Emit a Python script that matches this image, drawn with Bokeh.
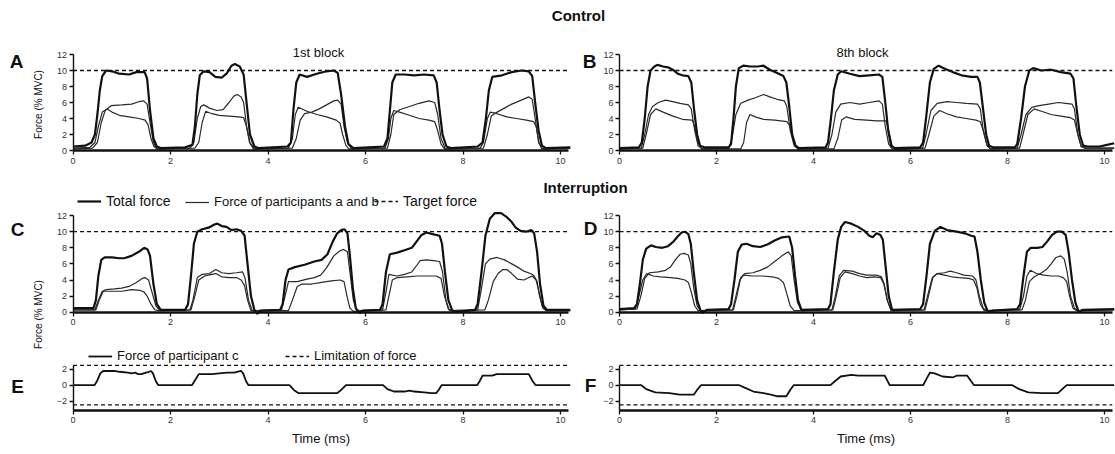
import numpy as np
from bokeh.plotting import figure
from bokeh.models import Range1d, LinearAxis, FixedTicker, Label, Legend, LegendItem
from bokeh.embed import file_html
from bokeh.resources import INLINE

W, H = 1115, 454
FONT = "Liberation Sans"

# ---------------- data (time on axis "Time (ms)", force in % MVC) ----------------
target_force = 10.0
force_limit = 2.5
y_ticks_force = [0, 2, 4, 6, 8, 10, 12]
y_ticks_c = [-2, 0, 2]
x_ticks = [0, 2, 4, 6, 8, 10]

A_total = [(0,0.5),(0.25,0.6),(0.38,1.0),(0.45,2.0),(0.5,4.5),(0.55,7.5),(0.6,9.3),(0.68,10.0),(0.8,9.9),(0.95,9.6),(1.15,9.5),(1.3,9.8),(1.47,9.8),(1.52,9.0),(1.58,5.0),(1.65,1.5),(1.72,0.5),(1.8,0.3),
           (2.3,0.4),(2.45,0.7),(2.5,3.0),(2.55,7.0),(2.6,9.4),(2.68,9.9),(2.8,9.8),(2.92,9.2),(3.05,9.1),(3.15,9.6),(3.25,10.6),(3.32,10.8),(3.42,10.5),(3.5,9.5),(3.56,6.0),(3.63,2.0),(3.72,0.5),(3.8,0.3),
           (4.4,0.5),(4.47,1.0),(4.52,5.0),(4.58,8.5),(4.65,9.5),(4.8,9.2),(5.0,9.6),(5.2,9.9),(5.35,10.0),(5.43,9.7),(5.5,7.0),(5.58,3.0),(5.65,0.8),(5.75,0.3),
           (6.38,0.5),(6.45,1.5),(6.5,5.0),(6.55,8.5),(6.62,9.5),(6.8,9.5),(7.0,9.4),(7.2,9.5),(7.4,9.4),(7.46,8.5),(7.52,5.0),(7.58,2.0),(7.66,0.5),(7.75,0.3),
           (8.3,0.5),(8.4,1.0),(8.47,4.0),(8.53,7.5),(8.6,9.2),(8.8,9.4),(9.0,9.8),(9.2,10.0),(9.35,9.9),(9.42,9.3),(9.48,6.0),(9.55,2.5),(9.62,0.6),(9.7,0.3),(10.2,0.4)]
A_part1 = [(0,0.3),(0.35,0.4),(0.45,1.0),(0.52,3.0),(0.6,4.8),(0.7,5.2),(0.8,4.8),(0.95,4.4),(1.15,4.2),(1.35,4.0),(1.48,3.8),(1.54,3.2),(1.6,1.5),(1.66,0.5),(1.72,0.2),
           (2.4,0.3),(2.48,1.0),(2.55,4.0),(2.62,5.5),(2.68,5.7),(2.8,5.3),(2.95,5.0),(3.08,5.1),(3.2,6.0),(3.3,6.8),(3.37,7.0),(3.45,6.7),(3.5,6.0),(3.56,3.0),(3.62,1.0),(3.7,0.2),
           (4.42,0.3),(4.5,1.5),(4.56,4.5),(4.62,5.4),(4.8,4.9),(5.0,4.5),(5.2,4.2),(5.4,3.8),(5.48,3.4),(5.53,2.0),(5.6,0.6),(5.66,0.2),
           (6.4,0.3),(6.47,1.5),(6.52,4.0),(6.58,5.0),(6.7,4.8),(6.9,4.4),(7.1,4.0),(7.3,3.8),(7.42,3.6),(7.48,2.5),(7.55,0.8),(7.62,0.2),
           (8.35,0.3),(8.42,1.0),(8.5,4.0),(8.56,4.8),(8.7,4.6),(8.9,4.2),(9.1,4.0),(9.3,3.8),(9.45,3.6),(9.5,3.0),(9.56,1.0),(9.62,0.2),(10.2,0.3)]
A_part2 = [(0,0.2),(0.4,0.3),(0.5,1.0),(0.58,3.5),(0.66,5.0),(0.78,5.6),(1.0,5.7),(1.2,5.8),(1.35,6.1),(1.45,6.2),(1.52,5.8),(1.58,3.5),(1.65,1.0),(1.72,0.2),
           (2.5,0.3),(2.58,1.0),(2.65,3.5),(2.72,4.9),(2.85,4.6),(3.0,4.4),(3.2,4.3),(3.4,4.2),(3.5,4.1),(3.56,3.0),(3.63,1.0),(3.72,0.2),
           (4.5,0.3),(4.58,1.5),(4.66,3.8),(4.75,4.6),(4.9,4.8),(5.05,5.2),(5.2,5.7),(5.35,6.2),(5.43,6.3),(5.5,5.8),(5.56,3.0),(5.63,1.0),(5.72,0.2),
           (6.45,0.3),(6.52,2.0),(6.58,4.5),(6.7,5.1),(6.9,5.5),(7.1,5.9),(7.3,6.2),(7.42,6.0),(7.48,4.5),(7.55,1.5),(7.64,0.2),
           (8.42,0.3),(8.5,2.0),(8.58,4.3),(8.7,4.8),(8.85,5.3),(9.0,5.8),(9.2,6.3),(9.35,6.7),(9.42,6.4),(9.48,4.0),(9.55,1.0),(9.62,0.2),(10.2,0.3)]

B_total = [(0,0.3),(0.4,0.4),(0.46,1.0),(0.52,4.0),(0.58,8.0),(0.64,10.0),(0.72,10.5),(0.78,10.7),(0.9,10.5),(1.0,10.4),(1.1,10.1),(1.2,9.6),(1.3,9.4),(1.42,9.3),(1.48,8.5),(1.54,5.0),(1.6,2.0),(1.66,0.6),(1.75,0.4),
           (2.25,0.4),(2.3,0.8),(2.35,4.0),(2.4,8.0),(2.46,10.3),(2.55,10.6),(2.7,10.5),(2.85,10.5),(2.97,10.6),(3.1,10.1),(3.25,9.7),(3.38,9.3),(3.44,8.5),(3.5,5.5),(3.56,2.0),(3.63,0.6),(3.7,0.3),
           (4.25,0.4),(4.3,1.0),(4.36,4.0),(4.42,7.5),(4.5,9.5),(4.57,9.9),(4.75,9.6),(4.95,9.3),(5.15,9.4),(5.35,9.5),(5.42,9.2),(5.48,6.0),(5.54,2.5),(5.6,0.6),(5.68,0.3),
           (6.2,0.4),(6.26,1.0),(6.32,4.0),(6.4,8.5),(6.48,10.2),(6.58,10.6),(6.72,10.2),(6.87,9.8),(7.05,9.4),(7.25,9.2),(7.38,9.2),(7.43,8.5),(7.5,5.0),(7.56,2.0),(7.62,0.6),(7.7,0.4),
           (8.15,0.4),(8.2,0.8),(8.28,4.0),(8.36,8.0),(8.45,10.0),(8.53,10.3),(8.7,10.0),(8.9,10.1),(9.1,9.8),(9.3,9.6),(9.36,9.0),(9.42,5.5),(9.49,2.0),(9.56,0.6),(9.65,0.5),(9.9,0.5),(10.05,0.7),(10.2,0.9)]
B_part1 = [(0,0.2),(0.45,0.3),(0.52,2.0),(0.6,4.5),(0.68,5.5),(0.8,6.0),(0.95,6.3),(1.1,6.1),(1.25,5.9),(1.42,5.7),(1.48,5.2),(1.55,2.5),(1.62,0.6),(1.7,0.2),
           (2.25,0.3),(2.32,1.5),(2.4,4.5),(2.5,5.9),(2.65,6.3),(2.8,6.6),(2.97,7.0),(3.1,6.7),(3.25,6.4),(3.4,6.2),(3.45,5.5),(3.52,2.5),(3.6,0.6),(3.68,0.2),
           (4.3,0.3),(4.38,2.0),(4.46,4.8),(4.56,5.8),(4.75,6.0),(4.95,5.8),(5.15,6.0),(5.35,6.2),(5.42,5.8),(5.48,3.0),(5.55,0.8),(5.62,0.2),
           (6.25,0.3),(6.32,2.0),(6.42,5.0),(6.55,5.9),(6.75,6.1),(6.95,6.0),(7.15,5.9),(7.38,5.8),(7.44,5.2),(7.5,2.5),(7.58,0.6),(7.65,0.2),
           (8.2,0.3),(8.28,2.0),(8.38,4.5),(8.5,5.4),(8.65,5.6),(8.85,5.8),(9.05,6.0),(9.2,5.9),(9.33,5.8),(9.38,5.2),(9.45,2.0),(9.52,0.5),(9.6,0.3),(10.2,0.3)]
B_part2 = [(0,0.2),(0.48,0.3),(0.55,2.0),(0.64,4.5),(0.75,5.2),(0.9,4.8),(1.1,4.3),(1.3,3.9),(1.5,3.8),(1.55,3.0),(1.62,1.0),(1.7,0.2),
           (2.5,0.2),(2.56,1.0),(2.62,3.5),(2.69,4.5),(2.8,4.2),(2.97,3.9),(3.2,3.8),(3.45,3.6),(3.52,3.0),(3.6,1.0),(3.68,0.2),
           (4.42,0.2),(4.5,1.5),(4.58,3.8),(4.67,4.2),(4.85,3.9),(5.1,3.8),(5.3,3.7),(5.5,3.7),(5.55,2.5),(5.62,0.6),(5.68,0.1),
           (6.3,0.3),(6.38,2.0),(6.48,4.3),(6.6,5.0),(6.75,4.6),(6.95,4.2),(7.15,4.0),(7.35,3.8),(7.44,3.6),(7.5,2.5),(7.58,0.6),(7.66,0.2),
           (8.25,0.3),(8.32,2.0),(8.42,4.5),(8.55,5.2),(8.7,4.9),(8.9,4.5),(9.1,4.3),(9.3,4.1),(9.38,3.8),(9.45,2.0),(9.52,0.5),(9.6,0.3),(10.2,0.3)]

C_total = [(0,0.5),(0.42,0.5),(0.47,1.5),(0.52,4.5),(0.58,6.5),(0.65,6.8),(0.8,6.8),(0.95,6.7),(1.05,6.7),(1.2,7.0),(1.35,7.5),(1.46,8.0),(1.53,7.8),(1.58,7.0),(1.65,3.5),(1.72,1.0),(1.8,0.3),
           (2.3,0.3),(2.36,1.0),(2.42,4.5),(2.48,8.5),(2.55,10.0),(2.65,10.3),(2.78,10.5),(2.9,10.9),(2.96,11.0),(3.05,10.7),(3.15,10.6),(3.25,10.2),(3.35,10.3),(3.45,10.1),(3.52,9.5),(3.58,6.0),(3.65,2.0),(3.72,0.3),(3.78,-0.2),(3.85,0.2),(4.25,0.3),
           (4.3,1.0),(4.36,4.0),(4.42,5.3),(4.55,5.6),(4.75,5.9),(4.95,6.3),(5.1,6.5),(5.22,7.2),(5.33,8.8),(5.42,9.8),(5.5,10.2),(5.57,10.3),(5.63,9.8),(5.68,7.0),(5.74,3.0),(5.8,0.5),(5.88,-0.1),(5.95,0.2),
           (6.3,0.3),(6.35,1.0),(6.42,5.0),(6.5,7.2),(6.65,7.4),(6.8,7.7),(6.95,8.0),(7.05,8.8),(7.15,9.6),(7.25,9.9),(7.38,9.7),(7.52,9.5),(7.57,8.5),(7.63,5.0),(7.7,1.5),(7.78,0.2),(7.85,0.0),
           (8.25,0.3),(8.3,1.0),(8.38,5.0),(8.46,9.5),(8.55,11.6),(8.65,12.3),(8.78,12.3),(8.9,11.8),(9.0,11.2),(9.08,10.5),(9.18,10.1),(9.3,10.0),(9.4,10.2),(9.46,9.8),(9.52,7.5),(9.58,3.5),(9.65,0.8),(9.72,0.3),(10.2,0.3)]
C_part1 = [(0,0.3),(0.45,0.3),(0.52,1.5),(0.6,2.6),(0.68,2.8),(0.85,2.9),(1.0,3.0),(1.15,3.2),(1.3,3.7),(1.42,4.2),(1.48,4.3),(1.55,4.0),(1.62,2.5),(1.7,0.8),(1.78,0.2),
           (2.4,0.3),(2.46,1.5),(2.55,4.3),(2.65,4.7),(2.8,4.8),(2.93,5.3),(3.05,4.9),(3.2,4.8),(3.35,4.9),(3.48,5.0),(3.53,4.2),(3.6,1.5),(3.68,0.2),
           (4.28,0.3),(4.35,2.0),(4.42,3.8),(4.6,3.8),(4.8,4.1),(4.95,4.3),(5.08,4.6),(5.2,5.5),(5.35,7.0),(5.47,7.6),(5.55,7.8),(5.63,7.5),(5.68,5.0),(5.75,1.5),(5.82,0.2),
           (6.35,0.3),(6.42,2.5),(6.48,4.7),(6.55,4.6),(6.65,4.5),(6.8,4.7),(6.95,5.0),(7.05,5.8),(7.12,6.4),(7.25,6.5),(7.4,6.4),(7.52,6.3),(7.58,5.0),(7.65,1.5),(7.72,0.2),
           (8.3,0.3),(8.38,3.0),(8.46,6.0),(8.55,6.6),(8.7,6.8),(8.85,6.5),(9.0,6.0),(9.12,5.6),(9.25,5.1),(9.38,4.8),(9.45,4.6),(9.52,3.8),(9.57,2.0),(9.64,0.5),(9.72,0.2),(10.2,0.2)]
C_part2 = [(0,0.3),(0.47,0.3),(0.54,1.5),(0.62,2.6),(0.8,2.6),(1.0,2.6),(1.2,2.8),(1.38,2.7),(1.46,2.5),(1.52,2.0),(1.6,1.0),(1.68,0.3),(1.75,0.2),
           (2.42,0.3),(2.5,2.0),(2.58,4.0),(2.7,4.5),(2.85,4.7),(2.93,4.8),(3.05,4.4),(3.2,4.3),(3.35,4.3),(3.45,4.0),(3.52,3.3),(3.58,1.5),(3.65,0.2),
           (4.42,0.2),(4.5,1.5),(4.6,3.2),(4.7,3.5),(4.9,3.5),(5.1,3.7),(5.3,3.9),(5.48,4.0),(5.56,3.8),(5.62,2.0),(5.68,0.5),(5.75,0.1),
           (6.42,0.3),(6.48,2.0),(6.55,4.0),(6.65,4.3),(6.85,4.4),(7.05,4.5),(7.25,4.5),(7.45,4.5),(7.55,4.2),(7.62,2.0),(7.7,0.4),(7.78,0.2),
           (8.45,0.3),(8.52,1.5),(8.62,3.8),(8.72,4.8),(8.82,5.3),(8.9,5.3),(9.0,4.8),(9.12,4.1),(9.25,4.0),(9.35,4.3),(9.42,4.5),(9.5,4.0),(9.56,2.5),(9.63,0.6),(9.7,0.2),(10.2,0.2)]

D_total = [(0,0.4),(0.3,0.5),(0.36,1.0),(0.42,3.5),(0.48,6.5),(0.55,7.9),(0.65,8.3),(0.75,8.1),(0.88,8.0),(1.0,8.2),(1.1,8.7),(1.2,9.4),(1.28,9.9),(1.35,10.0),(1.42,9.7),(1.47,8.5),(1.53,5.0),(1.6,1.5),(1.67,0.2),(1.72,-0.1),(1.8,0.3),
           (2.25,0.4),(2.3,1.0),(2.37,4.0),(2.44,7.5),(2.52,8.4),(2.62,8.5),(2.75,8.2),(2.9,8.1),(3.05,8.4),(3.2,8.9),(3.35,9.3),(3.5,9.4),(3.56,8.0),(3.62,4.5),(3.68,1.5),(3.75,0.3),
           (4.3,0.4),(4.35,1.0),(4.42,5.0),(4.5,9.0),(4.57,10.6),(4.65,11.2),(4.78,11.0),(4.92,10.6),(5.05,10.1),(5.15,9.5),(5.22,9.3),(5.3,9.8),(5.38,9.6),(5.43,9.0),(5.49,5.5),(5.55,2.0),(5.62,0.3),
           (6.2,0.4),(6.26,1.0),(6.33,4.5),(6.4,8.5),(6.5,10.1),(6.62,10.6),(6.75,10.2),(6.95,10.0),(7.12,9.8),(7.25,9.5),(7.32,9.4),(7.38,7.5),(7.45,4.0),(7.52,1.2),(7.6,0.0),(7.7,0.2),
           (8.2,0.4),(8.26,1.0),(8.33,4.5),(8.4,7.5),(8.48,8.0),(8.62,8.0),(8.72,8.1),(8.82,8.8),(8.92,9.6),(9.02,10.0),(9.12,10.0),(9.2,9.6),(9.26,7.5),(9.33,4.0),(9.4,1.2),(9.47,0.0),(9.55,0.3),(10.2,0.4)]
D_part1 = [(0,0.3),(0.36,0.4),(0.44,2.0),(0.52,4.2),(0.62,4.9),(0.8,5.0),(0.95,5.2),(1.05,5.6),(1.15,6.5),(1.25,7.2),(1.33,7.3),(1.42,7.1),(1.47,6.0),(1.53,3.0),(1.6,0.8),(1.67,0.2),
           (2.35,0.3),(2.42,2.0),(2.5,4.3),(2.58,4.8),(2.75,4.9),(2.9,5.2),(3.05,5.6),(3.2,6.3),(3.35,7.0),(3.48,7.5),(3.54,7.0),(3.6,4.0),(3.67,1.2),(3.75,0.2),
           (4.38,0.3),(4.45,2.0),(4.53,4.5),(4.62,5.2),(4.8,5.1),(4.95,4.8),(5.1,4.6),(5.3,4.6),(5.4,4.4),(5.46,3.5),(5.52,1.5),(5.6,0.2),
           (6.28,0.3),(6.35,2.0),(6.45,4.3),(6.55,4.8),(6.7,4.9),(6.82,5.1),(6.95,4.9),(7.1,4.6),(7.28,4.5),(7.35,4.0),(7.42,2.0),(7.5,0.5),(7.58,0.2),
           (8.3,0.3),(8.37,1.5),(8.45,3.8),(8.55,4.4),(8.68,4.8),(8.8,5.3),(8.9,6.0),(9.0,6.8),(9.1,7.0),(9.17,6.6),(9.23,5.0),(9.3,2.0),(9.38,0.5),(9.45,0.2),(10.2,0.3)]
D_part2 = [(0,0.3),(0.33,0.4),(0.4,2.0),(0.48,4.0),(0.56,4.8),(0.7,4.5),(0.85,4.4),(1.05,4.3),(1.2,4.2),(1.35,4.0),(1.42,3.7),(1.48,2.5),(1.55,0.8),(1.62,0.2),
           (2.33,0.3),(2.4,2.0),(2.48,4.0),(2.56,4.6),(2.75,4.5),(2.95,4.5),(3.15,4.4),(3.28,4.2),(3.38,3.7),(3.44,2.5),(3.52,0.8),(3.6,0.2),
           (4.4,0.3),(4.47,2.0),(4.55,4.3),(4.65,5.0),(4.8,4.8),(4.95,4.5),(5.1,4.3),(5.25,4.4),(5.38,4.3),(5.45,3.5),(5.52,1.5),(5.6,0.2),
           (6.3,0.3),(6.37,2.0),(6.46,4.3),(6.55,4.8),(6.7,4.6),(6.85,4.4),(7.0,4.3),(7.2,4.2),(7.3,4.0),(7.37,3.0),(7.44,1.0),(7.52,0.2),
           (8.25,0.3),(8.33,2.0),(8.4,4.5),(8.47,5.2),(8.6,4.8),(8.75,4.6),(8.9,4.5),(9.05,4.5),(9.15,4.3),(9.22,3.8),(9.28,2.0),(9.35,0.5),(9.42,0.2),(10.2,0.3)]

E_partc = [(0,0),(0.44,0),(0.5,0.6),(0.56,1.5),(0.62,1.8),(0.85,1.8),(0.95,1.7),(1.13,1.6),(1.2,1.5),(1.28,1.6),(1.33,1.4),(1.4,1.4),(1.45,1.5),(1.5,1.6),(1.56,1.7),(1.6,1.8),(1.64,1.5),(1.7,0.5),(1.75,0),
           (2.44,0),(2.5,0.6),(2.58,1.4),(2.85,1.4),(3.0,1.5),(3.16,1.6),(3.3,1.6),(3.45,1.8),(3.49,1.5),(3.55,0.5),(3.6,0),
           (4.44,0),(4.53,-0.6),(4.62,-1.0),(5.42,-1.0),(5.5,-0.6),(5.6,0),
           (6.36,0),(6.45,-0.5),(6.58,-0.8),(6.8,-0.8),(6.9,-0.7),(7.0,-0.8),(7.2,-0.9),(7.35,-1.0),(7.45,-1.0),(7.5,-0.6),(7.56,0),
           (8.29,0),(8.35,0.6),(8.4,1.2),(8.6,1.2),(8.69,1.4),(9.35,1.4),(9.42,0.6),(9.49,0),(10.2,0)]
F_partc = [(0,0),(0.45,0),(0.55,-0.5),(0.74,-0.9),(1.03,-1.0),(1.24,-1.2),(1.53,-1.2),(1.6,-0.6),(1.68,0),
           (2.47,0),(2.58,-0.3),(2.76,-0.8),(2.97,-1.0),(3.12,-1.2),(3.26,-1.4),(3.44,-1.4),(3.52,-0.6),(3.59,0),
           (4.35,0),(4.46,0.6),(4.56,1.1),(4.78,1.3),(4.92,1.2),(5.47,1.2),(5.52,0.6),(5.57,0),
           (6.26,0),(6.33,0.8),(6.4,1.6),(6.5,1.5),(6.66,1.1),(6.88,1.0),(6.95,1.2),(7.17,1.2),(7.24,0.6),(7.31,0),
           (8.1,0),(8.24,-0.5),(8.43,-0.9),(8.7,-1.0),(9.04,-1.0),(9.13,-0.5),(9.22,0),(10.2,0)]

# ---------------- layout (pixel geometry of each panel) ----------------
X_END = 10.16
panels = {
    "A": dict(x0=72.5, ux=48.75, y0=150.0, uy=8.0,  xaxis_at=0.0,  ybounds=(0, 12), yticks=y_ticks_force),
    "B": dict(x0=619.0, ux=48.5, y0=150.0, uy=8.0,  xaxis_at=0.0,  ybounds=(0, 12), yticks=y_ticks_force),
    "C": dict(x0=72.5, ux=48.75, y0=311.7, uy=8.05, xaxis_at=0.0,  ybounds=(0, 12), yticks=y_ticks_force),
    "D": dict(x0=619.0, ux=48.5, y0=311.7, uy=8.05, xaxis_at=0.0,  ybounds=(0, 12), yticks=y_ticks_force),
    "E": dict(x0=72.5, ux=48.75, y0=384.7, uy=7.9,  xaxis_at=-3.2, ybounds=(-3.2, 2.55), yticks=y_ticks_c),
    "F": dict(x0=619.0, ux=48.5, y0=384.7, uy=7.9,  xaxis_at=-3.2, ybounds=(-3.2, 2.55), yticks=y_ticks_c),
}

p = figure(width=W, height=H, output_backend="svg", toolbar_location=None,
           x_range=Range1d(0, W), y_range=Range1d(H, 0),
           x_axis_type=None, y_axis_type=None, min_border=0)
p.outline_line_color = None
p.background_fill_color = "white"
p.border_fill_color = "white"

INK = "#111111"
TICK_INK = "#333333"

for name, g in panels.items():
    xr = Range1d(-g["x0"] / g["ux"], (W - g["x0"]) / g["ux"])
    yr = Range1d(-(H - g["y0"]) / g["uy"], g["y0"] / g["uy"])
    p.extra_x_ranges[name + "x"] = xr
    p.extra_y_ranges[name + "y"] = yr
    ya = LinearAxis(x_range_name=name + "x", y_range_name=name + "y", fixed_location=0,
                    bounds=g["ybounds"], ticker=FixedTicker(ticks=g["yticks"]))
    xa = LinearAxis(x_range_name=name + "x", y_range_name=name + "y", fixed_location=g["xaxis_at"],
                    bounds=(0, X_END), ticker=FixedTicker(ticks=x_ticks))
    for ax, lw in ((ya, 1.4), (xa, 2.4)):
        ax.axis_line_width = lw
        ax.axis_line_color = INK
        ax.major_tick_line_color = INK
        ax.major_tick_line_width = 1.3
        ax.major_tick_in = 0
        ax.major_tick_out = 4
        ax.minor_tick_line_color = None
        ax.major_label_text_font = FONT
        ax.major_label_text_font_size = "9px"
        ax.major_label_text_color = TICK_INK
    ya.major_label_standoff = 2
    xa.major_label_standoff = 3
    if name in ("E", "F"):
        xa.axis_label = "Time (ms)"
        xa.axis_label_text_font = FONT
        xa.axis_label_text_font_size = "13px"
        xa.axis_label_text_font_style = "normal"
        xa.axis_label_text_color = INK
        xa.axis_label_standoff = 4
    p.add_layout(ya, "left")
    p.add_layout(xa, "below")

def xy(pairs):
    return [a for a, b in pairs], [b for a, b in pairs]

renderers = {}
for name, series in (("A", (A_total, A_part1, A_part2)), ("B", (B_total, B_part1, B_part2)),
                     ("C", (C_total, C_part1, C_part2)), ("D", (D_total, D_part1, D_part2))):
    kw = dict(x_range_name=name + "x", y_range_name=name + "y")
    t, f = xy(series[1]); r1 = p.line(t, f, line_color="#2a2a2a", line_width=1.2, **kw)
    t, f = xy(series[2]); p.line(t, f, line_color="#2a2a2a", line_width=1.2, **kw)
    t, f = xy(series[0]); r0 = p.line(t, f, line_color=INK, line_width=2.2, **kw)
    rt = p.line([0, X_END], [target_force, target_force], line_color=INK, line_width=1.3,
                line_dash="4 3", **kw)
    renderers[name] = (r0, r1, rt)

for name, series in (("E", E_partc), ("F", F_partc)):
    kw = dict(x_range_name=name + "x", y_range_name=name + "y")
    t, f = xy(series)
    rc = p.line(t, f, line_color=INK, line_width=1.8, **kw)
    rl = p.line([0, X_END], [force_limit, force_limit], line_color=INK, line_width=1.3, line_dash="4 3", **kw)
    p.line([0, X_END], [-force_limit, -force_limit], line_color=INK, line_width=1.3, line_dash="4 3", **kw)
    renderers[name] = (rc, rl)

# ---------------- texts ----------------
def label(x, y, text, size, bold=False, angle=0.0):
    p.add_layout(Label(x=x, y=y, text=text, text_font=FONT, text_font_size=size,
                       text_font_style="bold" if bold else "normal", text_color=INK,
                       text_align="center", text_baseline="middle", angle=angle))

label(578, 15, "Control", "15px", bold=True)
label(585, 187, "Interruption", "15px", bold=True)
label(318, 52, "1st block", "13px")
label(862, 52, "8th block", "13px")
for letter, (lx, ly) in {"A": (16, 61), "B": (589, 61), "C": (17, 229), "D": (590, 228),
                         "E": (17, 386), "F": (590, 385)}.items():
    label(lx, ly, letter, "19px", bold=True)
label(38, 104, "Force (% MVC)", "10px", angle=np.pi / 2)
label(38, 314, "Force (% MVC)", "10px", angle=np.pi / 2)

# ---------------- legends ----------------
def add_legend(text, rend, x_left, y_center, size="13px"):
    lg = Legend(items=[LegendItem(label=text, renderers=[rend])], location=(x_left, H - y_center - 7),
                orientation="horizontal", padding=0, margin=0, spacing=0,
                glyph_width=24, glyph_height=14, label_height=14, label_standoff=5,
                label_text_font=FONT, label_text_font_size=size, label_text_color=INK,
                border_line_color=None, background_fill_alpha=0)
    p.add_layout(lg)

rC = renderers["C"]
add_legend("Total force", rC[0], 77, 202, "14px")
add_legend("Force of participants a and b", rC[1], 185, 202)
add_legend("Target force", rC[2], 374, 202, "14px")
rE = renderers["E"]
add_legend("Force of participant c", rE[0], 88, 356)
add_legend("Limitation of force", rE[1], 285, 356)

open("out.html", "w").write(file_html(p, INLINE))
